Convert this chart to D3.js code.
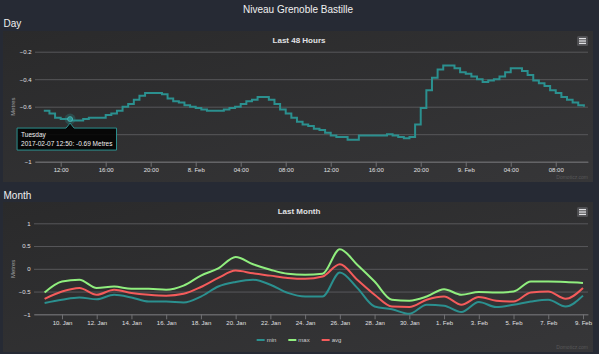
<!DOCTYPE html>
<html>
<head>
<meta charset="utf-8">
<script src="https://cdn.jsdelivr.net/npm/d3@7"></script>
<style>
  body { margin: 0; background: #262a34; }
  svg { display: block; font-family: "Liberation Sans", Arial, sans-serif; }
</style>
</head>
<body>
<svg id="page" width="599" height="354"></svg>
<script>
// Day data: one reading every 30 min, from 2017-02-07 10:30
const dayStart = '2017-02-07 10:30'
const dayStepMinutes = 30
const dayLevels = [
  -0.63, -0.65, -0.68, -0.69, -0.69, -0.70, -0.70, -0.69, -0.68, -0.68, -0.68, -0.66, -0.65, -0.63,
  -0.60, -0.58, -0.55, -0.52, -0.50, -0.50, -0.50, -0.51, -0.54, -0.56, -0.57, -0.59, -0.60,
  -0.61, -0.62, -0.63, -0.63, -0.63, -0.62, -0.61, -0.60, -0.58, -0.56, -0.55, -0.53, -0.53, -0.55,
  -0.58, -0.62, -0.65, -0.68, -0.71, -0.73, -0.74, -0.76, -0.77, -0.79, -0.81, -0.82, -0.82, -0.84,
  -0.84, -0.81, -0.81, -0.81, -0.81, -0.81, -0.80, -0.81, -0.82, -0.83, -0.82, -0.73, -0.61, -0.48,
  -0.39, -0.33, -0.30, -0.30, -0.32, -0.35,
  -0.36, -0.38, -0.40, -0.42, -0.41, -0.40, -0.38, -0.35, -0.32, -0.32, -0.34, -0.37, -0.41, -0.43,
  -0.45, -0.48, -0.50, -0.53, -0.55, -0.57, -0.59, -0.60
]
const dayTickTimes = [
  '2017-02-07 12:00', '2017-02-07 16:00', '2017-02-07 20:00', '2017-02-08 00:00',
  '2017-02-08 04:00', '2017-02-08 08:00', '2017-02-08 12:00', '2017-02-08 16:00',
  '2017-02-08 20:00', '2017-02-09 00:00', '2017-02-09 04:00', '2017-02-09 08:00'
]
const dayTickLabels = ['12:00', '16:00', '20:00', '8. Feb', '04:00', '08:00', '12:00', '16:00', '20:00', '9. Feb', '04:00', '08:00']
const dayYTicks = [-1, -0.8, -0.6, -0.4, -0.2]
const hoverTime = '2017-02-07 12:50'
const hoverValue = -0.69
const hoverDay = 'Tuesday'

// Month data: one point per day from 2017-01-09
const monthStart = '2017-01-09'
const monthMin = [
  -0.75, -0.68, -0.63, -0.67, -0.57, -0.63, -0.72, -0.72, -0.74, -0.61, -0.39, -0.29, -0.24, -0.35, -0.53, -0.61,
  -0.61, -0.08, -0.42, -0.83, -0.89, -0.99, -0.79, -0.81, -0.95, -0.73, -0.84, -0.79, -0.72, -0.68, -0.83, -0.59
]
const monthMax = [
  -0.52, -0.28, -0.24, -0.42, -0.39, -0.44, -0.44, -0.46, -0.37, -0.15, 0.01, 0.26, 0.10, -0.02, -0.11, -0.13,
  -0.11, 0.43, 0.09, -0.28, -0.68, -0.70, -0.61, -0.45, -0.57, -0.51, -0.52, -0.50, -0.28, -0.28, -0.29, -0.31
]
const monthAvg = [
  -0.66, -0.50, -0.42, -0.57, -0.46, -0.53, -0.57, -0.59, -0.55, -0.40, -0.20, -0.04, -0.10, -0.15, -0.20, -0.22,
  -0.17, 0.10, -0.24, -0.57, -0.83, -0.84, -0.68, -0.61, -0.79, -0.62, -0.70, -0.72, -0.52, -0.50, -0.66, -0.42
]
const monthTickDates = [
  '2017-01-10', '2017-01-12', '2017-01-14', '2017-01-16', '2017-01-18', '2017-01-20', '2017-01-22', '2017-01-24',
  '2017-01-26', '2017-01-28', '2017-01-30', '2017-02-01', '2017-02-03', '2017-02-05', '2017-02-07', '2017-02-09'
]
const monthTickLabels = [
  '10. Jan', '12. Jan', '14. Jan', '16. Jan', '18. Jan', '20. Jan', '22. Jan', '24. Jan',
  '26. Jan', '28. Jan', '30. Jan', '1. Feb', '3. Feb', '5. Feb', '7. Feb', '9. Feb'
]
const monthYTicks = [-1, -0.5, 0, 0.5, 1]
const seriesNames = ['min', 'max', 'avg']
const seriesColors = ['#2b908f', '#90ee7e', '#f45b5b']

document.addEventListener('DOMContentLoaded', function () {
  const svg = d3.select('#page')
  const parseTime = d3.timeParse('%Y-%m-%d %H:%M')
  const parseDay = d3.timeParse('%Y-%m-%d')
  const fmtY = d3.format('~g')

  const defs = svg.append('defs')
  const grad = defs.append('linearGradient').attr('id', 'panelBg')
    .attr('x1', 0).attr('y1', 0).attr('x2', 1).attr('y2', 1)
  grad.append('stop').attr('offset', '0%').attr('stop-color', '#2a2a2b')
  grad.append('stop').attr('offset', '100%').attr('stop-color', '#363638')

  // page heading
  svg.append('text')
    .attr('x', 298).attr('y', 12.5)
    .attr('text-anchor', 'middle')
    .attr('fill', '#f0f0f0')
    .style('font-size', '10px')
    .text('Niveau Grenoble Bastille')

  const drawPanel = (label, labelY, box, title) => {
    svg.append('text')
      .attr('x', 3.5).attr('y', labelY)
      .attr('fill', '#f0f0f0')
      .style('font-size', '10px')
      .text(label)

    const g = svg.append('g').attr('transform', `translate(${box.x},${box.y})`)
    g.append('rect').attr('width', box.w).attr('height', box.h).attr('fill', 'url(#panelBg)')
    g.append('text')
      .attr('x', box.w / 2 + 1).attr('y', 11.5)
      .attr('text-anchor', 'middle')
      .attr('fill', '#E0E0E3')
      .style('font-size', '8px')
      .style('font-weight', 'bold')
      .text(title)

    // context menu button
    const btn = g.append('g').attr('transform', `translate(${box.w - 16},5)`)
    btn.append('rect').attr('width', 11).attr('height', 10).attr('rx', 1.5).attr('fill', '#505053')
    ;[2.6, 5, 7.4].forEach(yy => {
      btn.append('line').attr('x1', 2).attr('x2', 9).attr('y1', yy).attr('y2', yy)
        .attr('stroke', '#E0E0E3').attr('stroke-width', 1.3)
    })

    g.append('text')
      .attr('x', box.w - 5).attr('y', box.h - 3)
      .attr('text-anchor', 'end')
      .attr('fill', '#58585a')
      .style('font-size', '5px')
      .text('Domoticz.com')
  }

  const drawAxes = (x, y, plot, tickValues, tickLabels, yTicks) => {
    const yAxis = d3.axisLeft(y)
      .tickValues(yTicks)
      .tickFormat(fmtY)
      .tickSize(-(plot.right - plot.left))
      .tickPadding(3.5)
    const gy = svg.append('g').attr('transform', `translate(${plot.left},0)`).call(yAxis)
    gy.select('.domain').remove()
    gy.selectAll('line').attr('stroke', '#58585b')
    gy.selectAll('text').attr('fill', '#E0E0E3').style('font-size', '6px').style('font-family', null)

    const xAxis = d3.axisBottom(x)
      .tickValues(tickValues)
      .tickFormat((d, i) => tickLabels[i])
      .tickSize(5)
      .tickSizeOuter(0)
      .tickPadding(1.5)
    const gx = svg.append('g').attr('transform', `translate(0,${plot.bottom})`).call(xAxis)
    gx.select('.domain').attr('stroke', '#707073')
    gx.selectAll('line').attr('stroke', '#707073')
    gx.selectAll('text').attr('fill', '#E0E0E3').style('font-size', '6px').style('font-family', null)

    svg.append('text')
      .attr('transform', `translate(13.5,${(plot.top + plot.bottom) / 2}) rotate(-90)`)
      .attr('text-anchor', 'middle')
      .attr('dominant-baseline', 'middle')
      .attr('fill', '#A0A0A3')
      .style('font-size', '6px')
      .text('Metres')
  }

  // ---- Day chart
  drawPanel('Day', 27, { x: 3, y: 31, w: 590, h: 151 }, 'Last 48 Hours')

  const dayPlot = { left: 35, right: 588, top: 51.7, bottom: 161.7 }
  const t0 = parseTime(dayStart)
  const dayPoints = dayLevels.map((v, i) => ({ t: d3.timeMinute.offset(t0, i * dayStepMinutes), v }))
  const dayX = d3.scaleTime()
    .domain([d3.timeMinute.offset(t0, -47), d3.timeMinute.offset(dayPoints[dayPoints.length - 1].t, 22)])
    .range([dayPlot.left, dayPlot.right])
  const dayY = d3.scaleLinear().domain([-1, -0.2]).range([dayPlot.bottom, dayPlot.top])

  drawAxes(dayX, dayY, dayPlot, dayTickTimes.map(parseTime), dayTickLabels, dayYTicks)

  svg.append('path')
    .datum(dayPoints)
    .attr('fill', 'none')
    .attr('stroke', seriesColors[0])
    .attr('stroke-width', 2)
    .attr('d', d3.line().x(d => dayX(d.t)).y(d => dayY(d.v)).curve(d3.curveStepAfter))

  // hovered point + tooltip
  const px = dayX(parseTime(hoverTime))
  const py = dayY(hoverValue)
  svg.append('circle').attr('cx', px).attr('cy', py).attr('r', 5.5)
    .attr('fill', seriesColors[0]).attr('opacity', 0.3)
  svg.append('circle').attr('cx', px).attr('cy', py).attr('r', 2.5)
    .attr('fill', seriesColors[0]).attr('stroke', '#5cc4c2').attr('stroke-width', 0.6)

  const tip = svg.append('g')
  const tipBox = tip.append('path')
  const line1 = tip.append('text').attr('fill', '#F0F0F0').style('font-size', '6.5px').text(hoverDay)
  const line2 = tip.append('text').attr('fill', '#F0F0F0').style('font-size', '6.5px')
    .text(`${hoverTime}: ${hoverValue} Metres`)
  const tw = Math.max(line1.node().getComputedTextLength(), line2.node().getComputedTextLength()) + 8
  const th = 22
  const tl = px - 53
  const tt = py + 9
  line1.attr('x', tl + 4).attr('y', tt + 8.5)
  line2.attr('x', tl + 4).attr('y', tt + 17.5)
  tipBox
    .attr('d', `M${tl},${tt} H${px - 4} L${px},${tt - 5} L${px + 4},${tt} H${tl + tw} V${tt + th} H${tl} Z`)
    .attr('fill', 'rgba(0,0,0,0.85)')
    .attr('stroke', seriesColors[0])
    .attr('stroke-width', 1)

  // ---- Month chart
  drawPanel('Month', 198.5, { x: 3, y: 202, w: 590, h: 150 }, 'Last Month')

  const monthPlot = { left: 34, right: 588, top: 223.3, bottom: 314.3 }
  const d0 = parseDay(monthStart)
  const monthDates = monthMin.map((v, i) => d3.timeDay.offset(d0, i))
  const monthX = d3.scaleTime()
    .domain([d3.timeMinute.offset(d0, -880), d3.timeMinute.offset(monthDates[monthDates.length - 1], 415)])
    .range([monthPlot.left, monthPlot.right])
  const monthY = d3.scaleLinear().domain([-1, 1]).range([monthPlot.bottom, monthPlot.top])

  drawAxes(monthX, monthY, monthPlot, monthTickDates.map(parseDay), monthTickLabels, monthYTicks)

  const monthSeries = [monthMin, monthMax, monthAvg]
  const spline = d3.line()
    .x((d, i) => monthX(monthDates[i]))
    .y(d => monthY(d))
    .curve(d3.curveMonotoneX)

  monthSeries.forEach((values, k) => {
    svg.append('path')
      .datum(values)
      .attr('fill', 'none')
      .attr('stroke', seriesColors[k])
      .attr('stroke-width', 2)
      .attr('d', spline)
  })

  // legend
  const legend = svg.append('g')
  let lx = 0
  seriesNames.forEach((name, k) => {
    const item = legend.append('g').attr('transform', `translate(${lx},0)`)
    item.append('line').attr('x1', 0).attr('x2', 8).attr('y1', 0).attr('y2', 0)
      .attr('stroke', seriesColors[k]).attr('stroke-width', 2)
    const label = item.append('text')
      .attr('x', 10).attr('y', 2.1)
      .attr('fill', '#cfcfd2')
      .style('font-size', '6px')
      .text(name)
    lx += 10 + label.node().getComputedTextLength() + 12
  })
  const legendWidth = lx - 12
  legend.attr('transform', `translate(${299 - legendWidth / 2},340)`)
})
</script>
</body>
</html>
